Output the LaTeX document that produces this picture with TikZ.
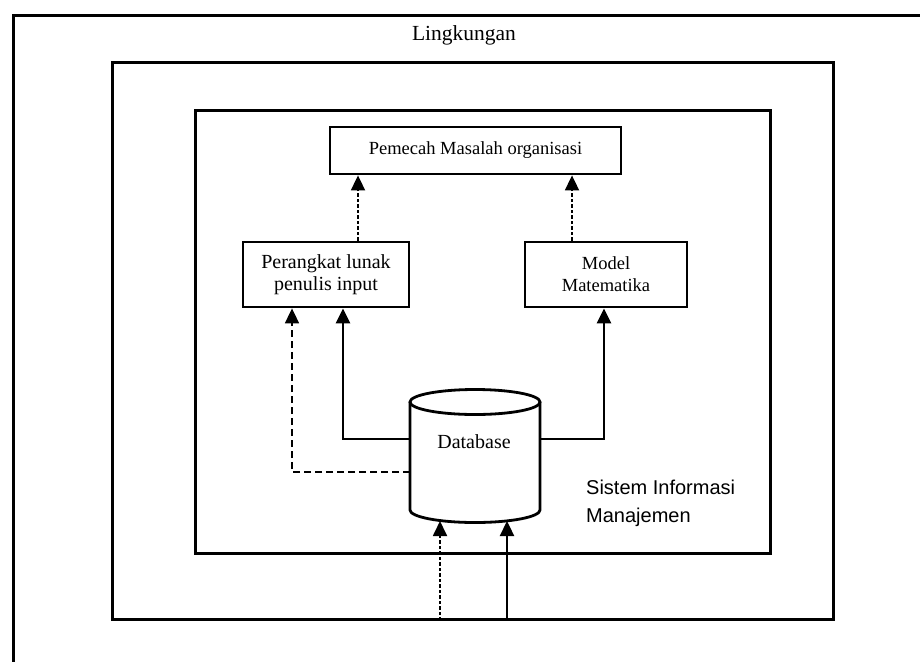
\documentclass[tikz,border=0pt]{standalone}
\usepackage{fontspec}
\setmainfont{Liberation Serif}
\newfontfamily\sisfont{Liberation Sans}
\usetikzlibrary{arrows.meta}
\begin{document}
\begin{tikzpicture}[x=1pt,y=-1pt,
  frame/.style={draw, line width=3pt, inner sep=0pt},
  boxnode/.style={draw, line width=2.8pt, inner sep=0pt, align=center,
    font=\fontsize{18.5}{22}\selectfont},
  solidarrow/.style={line width=2.4pt, -{Triangle[length=15pt,width=14pt]}},
  dasharrow/.style={line width=1.8pt, dash pattern=on 3.5pt off 2pt, -{Triangle[length=15pt,width=14pt]}},
  lbl/.style={inner sep=0pt}]
\useasboundingbox (0,0) rectangle (920,662);
\fill[white] (0,0) rectangle (920,662);
% outer environment frame
\draw[line width=3pt] (920,15) -- (13,15) -- (13,662);
\node[lbl, font=\fontsize{21.5}{24}\selectfont] (env) at (464,35) {Lingkungan};
% middle and inner frames
\node[frame, minimum width=721pt, minimum height=557pt] (mid) at (472.5,340.5) {};
\node[frame, minimum width=575pt, minimum height=443pt] (sim) at (482.5,331.5) {};
% boxes
\node[boxnode, minimum width=291pt, minimum height=47pt, font=\fontsize{18.5}{22}\selectfont] (tb) at (475.5,150.5) {Pemecah Masalah organisasi};
\node[boxnode, minimum width=166pt, minimum height=65pt, font=\fontsize{20}{22}\selectfont] (lb) at (326,274.5) {Perangkat lunak\\penulis input};
\node[boxnode, minimum width=162pt, minimum height=65pt] (mb) at (606,274.5) {Model\\Matematika};
% database cylinder
\node[inner sep=0pt, minimum width=130pt, minimum height=132pt] (db) at (475,456) {};
\draw[line width=2.8pt, fill=white] (410,402) -- (410,510) arc[start angle=180, end angle=360, x radius=65pt, y radius=12.5pt] -- (540,402);
\draw[line width=2.8pt] (475,402) ellipse[x radius=65pt, y radius=12.5pt];
\node[lbl, font=\fontsize{20}{22}\selectfont] (dbt) at (474,442) {Database};
\node[lbl, anchor=west, align=left, font=\sisfont\fontsize{20}{28}\selectfont] (sis) at (586,503) {Sistem Informasi\\Manajemen};
% helper coordinates
\coordinate (x1) at (358,0);
\coordinate (x2) at (572,0);
\coordinate (x3) at (343,439);
\coordinate (x4) at (292,472);
\coordinate (x5) at (604,439);
\coordinate (x6) at (440,521);
\coordinate (x7) at (507,521);
\coordinate (w1) at (410,439);
\coordinate (w2) at (410,472);
\coordinate (e1) at (540,439);
% connectors
\draw[dasharrow] (lb.north -| x1) -- (tb.south -| x1);
\draw[dasharrow] (mb.north -| x2) -- (tb.south -| x2);
\draw[solidarrow] (w1) -- (x3) -- (lb.south -| x3);
\draw[dasharrow, dash pattern=on 7pt off 4pt] (w2) -- (x4) -- (lb.south -| x4);
\draw[solidarrow] (e1) -- (x5) -- (mb.south -| x5);
\draw[dasharrow] (mid.south -| x6) -- (x6);
\draw[solidarrow] (mid.south -| x7) -- (x7);
\end{tikzpicture}
\end{document}
